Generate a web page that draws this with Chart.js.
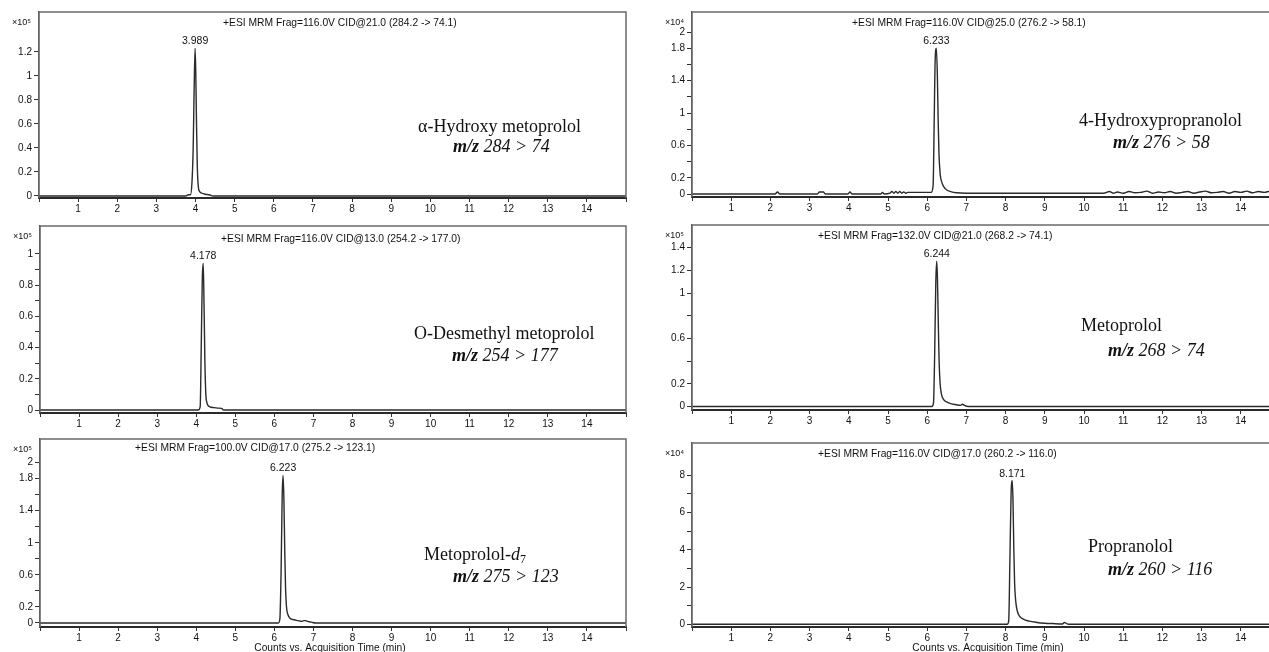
<!DOCTYPE html>
<html><head><meta charset="utf-8">
<script src="https://cdn.jsdelivr.net/npm/chart.js@4.4.0/dist/chart.umd.min.js"></script>
<style>
html,body{margin:0;padding:0;background:#fff;width:1269px;height:652px;overflow:hidden;}
#wrap{position:relative;width:1269px;height:652px;overflow:hidden;}
canvas{position:absolute;}
.lbl{position:absolute;font-family:"Liberation Serif","Times New Roman",serif;font-size:18px;line-height:20px;color:#111;white-space:nowrap;}
.mz{font-style:italic;}
.lbl sub{font-size:12px;line-height:0;vertical-align:-3px;}
</style></head><body><div id="wrap"></div>
<script>
// ---------------- DATA ----------------
// Retention time (min) and counts for each chromatogram (counts in units of the panel multiplier)
const timeAHM   = [0, 3.75, 3.82, 3.87, 3.91, 3.94, 3.965, 3.989, 4.005, 4.025, 4.045, 4.07, 4.1, 4.15, 4.25, 4.35, 4.45, 15];
const countsAHM = [0, 0, 0.01, 0.01, 0.12, 0.4, 0.9, 1.23, 1.05, 0.6, 0.25, 0.08, 0.04, 0.025, 0.015, 0.01, 0, 0];

const timeHP   = [0, 2.12, 2.18, 2.24, 3.2, 3.25, 3.35, 3.4, 3.98, 4.03, 4.08, 4.82, 4.86, 4.9, 5.05, 5.1, 5.15, 5.2, 5.25, 5.3, 5.35, 5.4, 5.45, 5.5,
                  6.1, 6.15, 6.18, 6.2, 6.233, 6.26, 6.28, 6.3, 6.33, 6.37, 6.42, 6.5, 6.6, 6.75, 7.0,
                  10.5, 10.65, 10.75, 10.85, 11.0, 11.15, 11.3, 11.45, 11.6, 11.75, 11.9, 12.05, 12.2, 12.35, 12.5, 12.65, 12.8, 12.95,
                  13.1, 13.25, 13.4, 13.55, 13.7, 13.85, 14.0, 14.15, 14.3, 14.45, 14.6, 14.75, 14.9, 15];
const countsHP = [0, 0, 0.025, 0, 0, 0.025, 0.025, 0, 0, 0.025, 0, 0, 0.02, 0, 0.01, 0.03, 0.01, 0.03, 0.01, 0.03, 0.01, 0.025, 0.01, 0.02,
                  0.02, 0.1, 0.95, 1.6, 1.8, 1.45, 0.9, 0.5, 0.25, 0.15, 0.09, 0.05, 0.03, 0.015, 0.01,
                  0.01, 0.03, 0.01, 0.025, 0.01, 0.03, 0.015, 0.02, 0.035, 0.01, 0.025, 0.015, 0.03, 0.01, 0.02, 0.03, 0.01, 0.025,
                  0.035, 0.015, 0.02, 0.03, 0.01, 0.03, 0.02, 0.035, 0.015, 0.03, 0.02, 0.035, 0.02, 0.03];

const timeODM   = [0, 4.05, 4.1, 4.13, 4.155, 4.178, 4.2, 4.22, 4.245, 4.27, 4.3, 4.35, 4.45, 4.55, 4.65, 4.7, 15];
const countsODM = [0, 0, 0.02, 0.45, 0.85, 0.94, 0.66, 0.32, 0.1, 0.05, 0.03, 0.02, 0.015, 0.012, 0.01, 0, 0];

const timeMET   = [0, 6.12, 6.16, 6.19, 6.22, 6.244, 6.26, 6.28, 6.3, 6.33, 6.37, 6.42, 6.5, 6.6, 6.75, 6.85, 6.9, 6.95, 7.05, 15];
const countsMET = [0, 0, 0.03, 0.45, 1.1, 1.28, 1.15, 0.8, 0.45, 0.2, 0.1, 0.06, 0.04, 0.025, 0.015, 0.01, 0.02, 0.01, 0, 0];

const timeMD7   = [0, 6.1, 6.14, 6.17, 6.2, 6.223, 6.245, 6.265, 6.285, 6.31, 6.35, 6.4, 6.5, 6.6, 6.7, 6.75, 6.8, 6.85, 6.95, 7.05, 15];
const countsMD7 = [0, 0, 0.05, 0.6, 1.6, 1.84, 1.5, 0.9, 0.45, 0.2, 0.1, 0.06, 0.04, 0.03, 0.02, 0.03, 0.03, 0.02, 0.01, 0, 0];

const timePRO   = [0, 8.04, 8.08, 8.11, 8.14, 8.171, 8.19, 8.21, 8.23, 8.26, 8.3, 8.35, 8.45, 8.6, 8.8, 9.0, 9.2, 9.45, 9.5, 9.55, 9.6, 15];
const countsPRO = [0, 0, 0.2, 3.5, 7.0, 7.7, 6.5, 4.0, 2.2, 1.2, 0.7, 0.45, 0.28, 0.17, 0.1, 0.06, 0.04, 0.02, 0.1, 0.05, 0, 0];

// Peak retention times (labels)
const peakTimes  = [3.989, 6.233, 4.178, 6.244, 6.223, 8.171];
const peakLabels = ['3.989', '6.233', '4.178', '6.244', '6.223', '8.171'];

// Texts
const scanTitles = [
  '+ESI MRM Frag=116.0V CID@21.0 (284.2 -> 74.1)',
  '+ESI MRM Frag=116.0V CID@25.0 (276.2 -> 58.1)',
  '+ESI MRM Frag=116.0V CID@13.0 (254.2 -> 177.0)',
  '+ESI MRM Frag=132.0V CID@21.0 (268.2 -> 74.1)',
  '+ESI MRM Frag=100.0V CID@17.0 (275.2 -> 123.1)',
  '+ESI MRM Frag=116.0V CID@17.0 (260.2 -> 116.0)'
];
const multipliers = ['×10⁵', '×10⁴', '×10⁵', '×10⁵', '×10⁵', '×10⁴'];
const compoundNames = ['α-Hydroxy metoprolol', '4-Hydroxypropranolol', 'O-Desmethyl metoprolol', 'Metoprolol', 'Metoprolol-<i>d</i><sub>7</sub>', 'Propranolol'];
const transitions = ['284 &gt; 74', '276 &gt; 58', '254 &gt; 177', '268 &gt; 74', '275 &gt; 123', '260 &gt; 116'];
const xAxisTitle = 'Counts vs. Acquisition Time (min)';

// Tick values
const xTickLabels = [1,2,3,4,5,6,7,8,9,10,11,12,13,14];
const yTicksAHM = [0, 0.2, 0.4, 0.6, 0.8, 1, 1.2];
const yLabelsAHM = [0, 0.2, 0.4, 0.6, 0.8, 1, 1.2];
const yTicksHP = [0, 0.2, 0.4, 0.6, 0.8, 1, 1.2, 1.4, 1.6, 1.8, 2];
const yLabelsHP = [0, 0.2, 0.6, 1, 1.4, 1.8, 2];
const yTicksODM = [0, 0.1, 0.2, 0.3, 0.4, 0.5, 0.6, 0.7, 0.8, 0.9, 1];
const yLabelsODM = [0, 0.2, 0.4, 0.6, 0.8, 1];
const yTicksMET = [0, 0.2, 0.4, 0.6, 0.8, 1, 1.2, 1.4];
const yLabelsMET = [0, 0.2, 0.6, 1, 1.2, 1.4];
const yTicksMD7 = [0, 0.2, 0.4, 0.6, 0.8, 1, 1.2, 1.4, 1.6, 1.8, 2];
const yLabelsMD7 = [0, 0.2, 0.6, 1, 1.4, 1.8, 2];
const yTicksPRO = [0, 1, 2, 3, 4, 5, 6, 7, 8];
const yLabelsPRO = [0, 2, 4, 6, 8];

// ---------------- LAYOUT ----------------
const panels = [
  {t: timeAHM, c: countsAHM, yt: yTicksAHM, yl: yLabelsAHM, box: [0, 0, 640, 214], yw: 39, xh: 16, pt: 12, pr: 14, ymin: -0.0167, ymax: 1.533, tx: 184, ty: 11, name: [418, 126], mz: [453, 146]},
  {t: timeHP, c: countsHP, yt: yTicksHP, yl: yLabelsHP, box: [640, 0, 660, 213], yw: 52, xh: 16, pt: 12, pr: 20, ymin: -0.037, ymax: 2.247, tx: 160, ty: 11, name: [1079, 120], mz: [1113, 142]},
  {t: timeODM, c: countsODM, yt: yTicksODM, yl: yLabelsODM, box: [0, 214, 640, 215], yw: 40, xh: 16, pt: 12, pr: 14, ymin: -0.0192, ymax: 1.179, tx: 181, ty: 13, name: [414, 333], mz: [452, 355]},
  {t: timeMET, c: countsMET, yt: yTicksMET, yl: yLabelsMET, box: [640, 213, 660, 213], yw: 52, xh: 16, pt: 12, pr: 20, ymin: -0.031, ymax: 1.6, tx: 126, ty: 11, name: [1081, 325], mz: [1108, 350]},
  {t: timeMD7, c: countsMD7, yt: yTicksMD7, yl: yLabelsMD7, box: [0, 429, 640, 223], yw: 40, xh: 25, pt: 10, pr: 14, ymin: -0.05, ymax: 2.294, tx: 95, ty: 9, name: [424, 554], mz: [453, 576], axisTitleX: 330},
  {t: timePRO, c: countsPRO, yt: yTicksPRO, yl: yLabelsPRO, box: [640, 426, 660, 226], yw: 52, xh: 25, pt: 17, pr: 20, ymin: -0.145, ymax: 9.73, tx: 126, ty: 11, name: [1088, 546], mz: [1108, 569], axisTitleX: 988}
];

const SANS = '"Liberation Sans", Arial, sans-serif';

const decor = {
  id: 'decor',
  afterDraw(chart, args, o) {
    const ctx = chart.ctx, a = chart.chartArea;
    ctx.save();
    // frame (top, left, right)
    ctx.strokeStyle = '#6a6a6a';
    ctx.lineWidth = 1.5;
    ctx.beginPath();
    ctx.moveTo(a.left, a.bottom);
    ctx.lineTo(a.left, a.top);
    ctx.lineTo(a.right, a.top);
    ctx.lineTo(a.right, a.bottom);
    ctx.stroke();
    ctx.fillStyle = '#111';
    // scan title
    ctx.font = '10.3px ' + SANS;
    ctx.textAlign = 'left';
    ctx.textBaseline = 'middle';
    ctx.fillText(o.title, a.left + o.tx, a.top + o.ty);
    // multiplier
    ctx.font = '9px ' + SANS;
    ctx.fillText(o.mult, a.left - 27, a.top + 11);
    // peak label
    const xs = chart.scales.x, ys = chart.scales.y;
    const px = xs.getPixelForValue(o.peakT);
    const py = ys.getPixelForValue(o.peakV);
    ctx.font = '10.5px ' + SANS;
    ctx.textAlign = 'center';
    ctx.fillText(o.peakL, px, py - 7);
    // axis title
    if (o.axisTitleX !== undefined) {
      ctx.font = '10.2px ' + SANS;
      ctx.fillText(xAxisTitle, o.axisTitleX - chart.canvas.offsetLeft, a.bottom + 21);
    }
    ctx.restore();
  }
};

const wrap = document.getElementById('wrap');

panels.forEach((p, i) => {
  const cv = document.createElement('canvas');
  cv.width = p.box[2]; cv.height = p.box[3];
  cv.style.left = p.box[0] + 'px'; cv.style.top = p.box[1] + 'px';
  cv.style.width = p.box[2] + 'px'; cv.style.height = p.box[3] + 'px';
  wrap.appendChild(cv);

  const pts = p.t.map((x, k) => ({x: x, y: p.c[k]}));
  const peakIdx = p.t.indexOf(peakTimes[i]);

  new Chart(cv, {
    type: 'line',
    data: {datasets: [{data: pts, borderColor: '#2a2a2a', borderWidth: 1.4, pointRadius: 0, fill: false, tension: 0, cubicInterpolationMode: 'monotone'}]},
    options: {
      responsive: false, animation: false, devicePixelRatio: 1,
      layout: {padding: {top: p.pt, right: p.pr, left: 0, bottom: 0}},
      plugins: {
        legend: {display: false}, tooltip: {enabled: false}, title: {display: false},
        decor: {title: scanTitles[i], mult: multipliers[i], tx: p.tx, ty: p.ty,
                peakT: peakTimes[i], peakV: p.c[peakIdx], peakL: peakLabels[i], axisTitleX: p.axisTitleX}
      },
      scales: {
        x: {
          type: 'linear', min: 0, max: 15,
          afterFit(s) { s.height = p.xh; },
          afterBuildTicks(s) { s.ticks = [0].concat(xTickLabels, [15]).map(v => ({value: v})); },
          ticks: {autoSkip: false, maxRotation: 0, padding: 1, color: '#111', font: {family: SANS, size: 10},
                  callback: v => xTickLabels.includes(v) ? String(v) : ''},
          grid: {drawOnChartArea: false, drawTicks: true, tickLength: 4, color: '#333', lineWidth: 1},
          border: {display: true, color: '#2a2a2a', width: 2}
        },
        y: {
          type: 'linear', min: p.ymin, max: p.ymax,
          afterFit(s) { s.width = p.yw; },
          afterBuildTicks(s) { s.ticks = p.yt.map(v => ({value: v})); },
          ticks: {autoSkip: false, padding: 2, color: '#111', font: {family: SANS, size: 10},
                  callback: v => p.yl.includes(v) ? String(v) : ''},
          grid: {drawOnChartArea: false, drawTicks: true, tickLength: 5, color: '#333', lineWidth: 1},
          border: {display: true, color: '#444', width: 1.2}
        }
      }
    },
    plugins: [decor]
  });

  const n = document.createElement('div');
  n.className = 'lbl';
  n.style.left = p.name[0] + 'px'; n.style.top = (p.name[1] - 10) + 'px';
  n.innerHTML = compoundNames[i];
  wrap.appendChild(n);

  const m = document.createElement('div');
  m.className = 'lbl mz';
  m.style.left = p.mz[0] + 'px'; m.style.top = (p.mz[1] - 10) + 'px';
  m.innerHTML = '<b>m/z</b> ' + transitions[i];
  wrap.appendChild(m);
});
</script>
</body></html>
